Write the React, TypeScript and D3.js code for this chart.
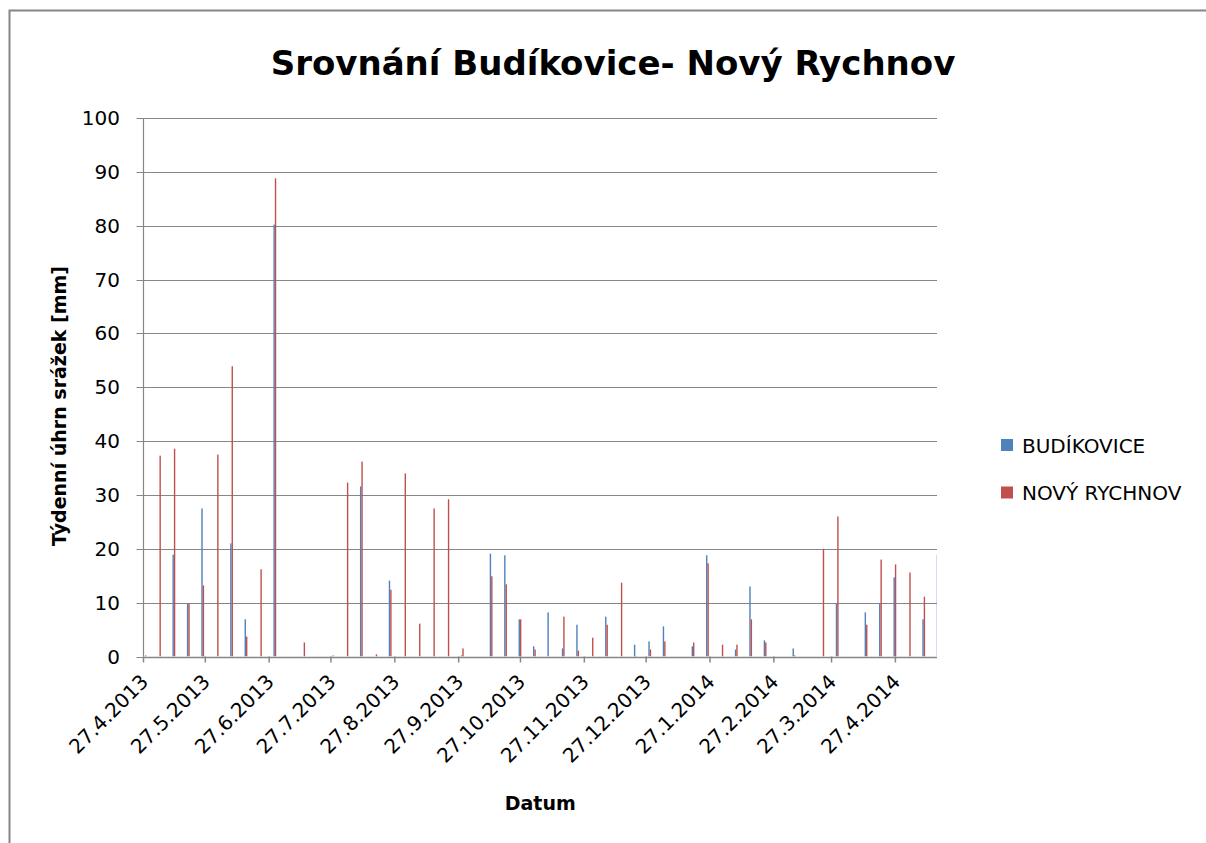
import React from "react";
import * as d3 from "d3";

const weekDates = [
  "2013-04-27","2013-05-04","2013-05-11","2013-05-18","2013-05-25","2013-06-01","2013-06-08","2013-06-15",
  "2013-06-22","2013-06-29","2013-07-06","2013-07-13","2013-07-20","2013-07-27","2013-08-03","2013-08-10",
  "2013-08-17","2013-08-24","2013-08-31","2013-09-07","2013-09-14","2013-09-21","2013-09-28","2013-10-05",
  "2013-10-12","2013-10-19","2013-10-26","2013-11-02","2013-11-09","2013-11-16","2013-11-23","2013-11-30",
  "2013-12-07","2013-12-14","2013-12-21","2013-12-28","2014-01-04","2014-01-11","2014-01-18","2014-01-25",
  "2014-02-01","2014-02-08","2014-02-15","2014-02-22","2014-03-01","2014-03-08","2014-03-15","2014-03-22",
  "2014-03-29","2014-04-05","2014-04-12","2014-04-19","2014-04-26","2014-05-03","2014-05-10","2014-05-17",
];

const budikovice = [
  0, 0, 18.9, 9.8, 27.5, 0, 21, 6.9, 0, 80.2, 0, 0, 0, 0, 0, 31.6,
  0, 14.1, 0, 0, 0, 0, 0.2, 0, 19.1, 18.8, 6.9, 1.9, 8.2, 1.5, 5.9, 0,
  7.4, 0, 2.2, 2.8, 5.6, 0, 1.9, 18.8, 0, 1.3, 13.0, 3.0, 0, 1.5, 0, 0,
  9.8, 0, 8.2, 9.8, 14.7, 0, 6.9, 18.9,
];

const novyRychnov = [
  0.2, 37.3, 38.6, 9.8, 13.2, 37.5, 53.9, 3.7, 16.2, 88.8, 0, 2.6, 0, 0.2, 32.3, 36.2,
  0.4, 12.4, 34.0, 6.1, 27.5, 29.2, 1.5, 0, 14.9, 13.4, 6.9, 1.3, 0, 7.4, 1.1, 3.5,
  5.9, 13.7, 0.1, 1.3, 2.8, 0, 2.6, 17.3, 2.2, 2.2, 6.9, 2.6, 0, 0.2, 0, 20.0,
  26.0, 0, 5.9, 18.0, 17.1, 15.6, 11.1, 0,
];

const tickDates = [
  "2013-04-27","2013-05-27","2013-06-27","2013-07-27","2013-08-27","2013-09-27","2013-10-27",
  "2013-11-27","2013-12-27","2014-01-27","2014-02-27","2014-03-27","2014-04-27",
];

const yTicks = [0, 10, 20, 30, 40, 50, 60, 70, 80, 90, 100];

const seriesNames = ["BUDÍKOVICE", "NOVÝ RYCHNOV"];
const seriesColors = ["#4F81BD", "#C0504D"];

const title = "Srovnání Budíkovice- Nový Rychnov";
const yTitle = "Týdenní úhrn srážek [mm]";
const xTitle = "Datum";

const parse = (s: string) => new Date(s + "T00:00:00Z");
const DAY = 86400000;

export default function App() {
  const left = 143.5;
  const right = 937;
  const top = 118;
  const bottom = 656.5;
  const start = parse(weekDates[0]);
  const end = new Date(start.getTime() + 385.2 * DAY);
  const x = d3.scaleUtc().domain([start, end]).range([left, right]);
  const y = d3.scaleLinear().domain([0, 100]).range([bottom, top]);
  const fmt = d3.utcFormat("%-d.%-m.%Y");
  const barW = 1.4;
  const grid = "#868686";
  const font = "'DejaVu Sans', sans-serif";

  return (
    <div style={{ position: "fixed", left: 0, top: 0, width: 1206, height: 843, background: "#fff" }}>
      <svg width={1206} height={843} style={{ display: "block" }}>
        <rect x={0} y={0} width={1206} height={843} fill="#fff" />
        <rect x={9.5} y={10.5} width={1400} height={1000} fill="none" stroke={grid} strokeWidth={2} />
        <text x={613} y={75} textAnchor="middle" fontFamily={font} fontWeight="bold" fontSize={34} fill="#000">
          {title}
        </text>
        {yTicks.map((t) => (
          <g key={t}>
            <line x1={left} x2={right} y1={Math.round(y(t)) + 0.5} y2={Math.round(y(t)) + 0.5} stroke={grid} strokeWidth={t === 0 ? 1.6 : 1} />
            <line x1={left - 7} x2={left} y1={Math.round(y(t)) + 0.5} y2={Math.round(y(t)) + 0.5} stroke={grid} />
            <text x={120} y={y(t) + 7} textAnchor="end" fontFamily={font} fontSize={20} fill="#000">
              {t}
            </text>
          </g>
        ))}
        <line x1={left} x2={left} y1={top} y2={bottom} stroke={grid} strokeWidth={1.2} />
        <defs>
          <clipPath id="plot">
            <rect x={left} y={top - 5} width={right - left} height={bottom - top + 5} />
          </clipPath>
        </defs>
        <g clipPath="url(#plot)">
          {weekDates.map((ds, i) => {
            const cx = x(new Date(parse(ds).getTime() + 0.75 * DAY));
            return (
              <g key={ds}>
                {budikovice[i] > 0 && (
                  <rect x={cx - barW} y={y(budikovice[i])} width={barW} height={bottom - y(budikovice[i])} fill={seriesColors[0]} />
                )}
                {novyRychnov[i] > 0 && (
                  <rect x={cx} y={y(novyRychnov[i])} width={barW} height={bottom - y(novyRychnov[i])} fill={seriesColors[1]} />
                )}
              </g>
            );
          })}
        </g>
        {tickDates.map((ds) => {
          const tx = x(parse(ds));
          return (
            <g key={ds}>
              <line x1={tx} x2={tx} y1={bottom} y2={bottom + 6} stroke={grid} strokeWidth={1.5} />
              <text
                transform={`translate(${tx + 6},${683}) rotate(-45)`}
                textAnchor="end"
                fontFamily={font}
                fontSize={20}
                fill="#000"
              >
                {fmt(parse(ds))}
              </text>
            </g>
          );
        })}
        <text x={(left + right) / 2} y={810} textAnchor="middle" fontFamily={font} fontWeight="bold" fontSize={19} fill="#000">
          {xTitle}
        </text>
        <text transform={`translate(66,406) rotate(-90)`} textAnchor="middle" fontFamily={font} fontWeight="bold" fontSize={19} fill="#000">
          {yTitle}
        </text>
        {seriesNames.map((n, i) => (
          <g key={n}>
            <rect x={1001} y={439 + i * 47.5} width={12} height={12} fill={seriesColors[i]} />
            <text x={1022} y={452.5 + i * 47.5} fontFamily={font} fontSize={20} fill="#000">
              {n}
            </text>
          </g>
        ))}
      </svg>
    </div>
  );
}
